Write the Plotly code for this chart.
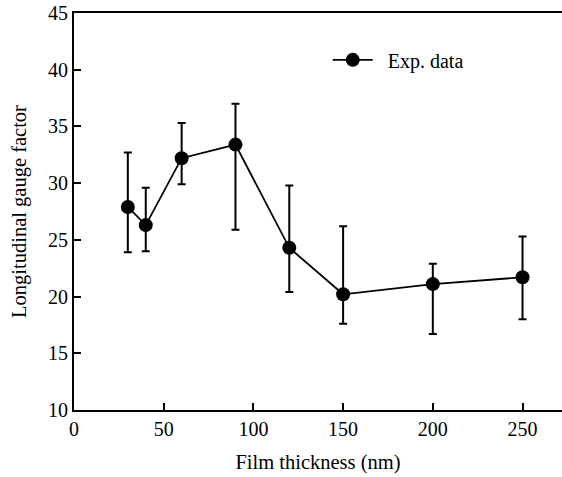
import plotly.graph_objects as go

thickness = [30, 40, 60, 90, 120, 150, 200, 250]
gauge = [27.9, 26.3, 32.2, 33.4, 24.3, 20.2, 21.1, 21.7]
err_top = [32.7, 29.6, 35.3, 37.0, 29.8, 26.2, 22.9, 25.3]
err_bot = [23.9, 24.0, 29.9, 25.9, 20.4, 17.6, 16.7, 18.0]

plus = [t - g for t, g in zip(err_top, gauge)]
minus = [g - b for g, b in zip(gauge, err_bot)]

fig = go.Figure()
fig.add_trace(go.Scatter(
    x=thickness, y=gauge, mode="lines+markers", name="\u00a0\u00a0Exp. data",
    line=dict(color="black", width=1.8),
    marker=dict(color="black", size=14),
    error_y=dict(type="data", symmetric=False, array=plus, arrayminus=minus,
                 color="black", thickness=2, width=4),
))

font = "Liberation Serif, Times New Roman, serif"
fig.update_layout(
    width=562, height=477,
    margin=dict(l=74, r=0, t=13, b=67),
    paper_bgcolor="white", plot_bgcolor="white",
    font=dict(family=font, size=20, color="black"),
    showlegend=True,
    legend=dict(x=0.52, y=0.882, xanchor="left", yanchor="middle",
                bgcolor="rgba(0,0,0,0)", font=dict(size=20), itemwidth=40),
    xaxis=dict(range=[0, 272], tickvals=[0, 50, 100, 150, 200, 250],
               ticks="inside", ticklen=7, tickwidth=1.5, tickcolor="black",
               showline=True, linecolor="black", linewidth=2, mirror=True,
               showgrid=False, zeroline=False,
               title=dict(text="Film thickness (nm)", font=dict(size=20.5), standoff=16)),
    yaxis=dict(range=[10, 45], tickvals=[10, 15, 20, 25, 30, 35, 40, 45],
               ticks="inside", ticklen=7, tickwidth=1.5, tickcolor="black",
               showline=True, linecolor="black", linewidth=2,
               showgrid=False, zeroline=False,
               title=dict(text="Longitudinal gauge factor", font=dict(size=20.5), standoff=16)),
)

fig.write_html("out.html")
